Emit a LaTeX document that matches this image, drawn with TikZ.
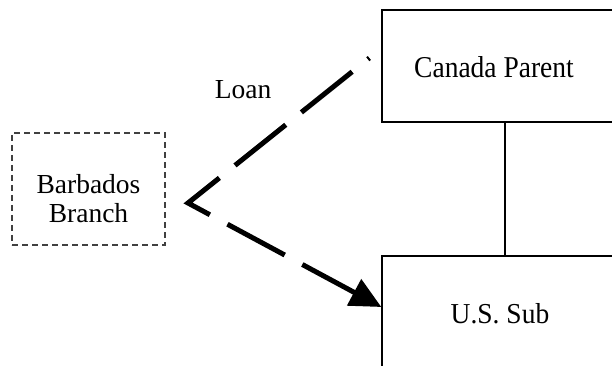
\documentclass[tikz,border=0pt]{standalone}
\usepackage{fontspec}
\setmainfont{Liberation Serif}
\usetikzlibrary{arrows.meta,calc}
\begin{document}
\begin{tikzpicture}[x=1pt,y=1pt,
  entity/.style={draw=black,line width=1.3pt,minimum width=246pt,minimum height=112pt,inner sep=0pt},
  branchbox/.style={draw=black!75,line width=1.3pt,dash pattern=on 6pt off 4pt,minimum width=153pt,minimum height=112pt,inner sep=0pt,align=center},
  lbl/.style={font=\fontsize{27.5}{29}\selectfont,inner sep=0pt},
  loanline/.style={line width=5pt,dash pattern=on 65pt off 20pt,dash phase=63pt,line join=miter,-{Triangle[length=31pt,width=29pt]}}]
\useasboundingbox (0,0) rectangle (612,366);
\clip (0,0) rectangle (612,366);
\node[entity] (cp) at (505,300) {};
\node[entity] (us) at (505,54) {};
\node[branchbox] (bb) at (88.5,177) {};
\node[lbl,anchor=base] (cpt) at (494,288) {\scalebox{1}[1.1]{Canada Parent}};
\node[lbl,anchor=base] (ust) at (500,42) {\scalebox{1}[1.05]{U.S. Sub}};
\node[lbl,align=center] (bbt) at (88.5,167.5) {Barbados\\Branch};
\node[lbl,anchor=base] (loan) at (243,267) {Loan};
\draw[line width=1.3pt] (cp.south) -- (us.north);
\coordinate (ls) at ($(cp.west)+(-12,8)$);
\coordinate (lv) at (188,163);
\coordinate (le) at ($(us.west)+(0,5)$);
\draw[loanline] (ls) -- (lv) -- (le);
\end{tikzpicture}
\end{document}
